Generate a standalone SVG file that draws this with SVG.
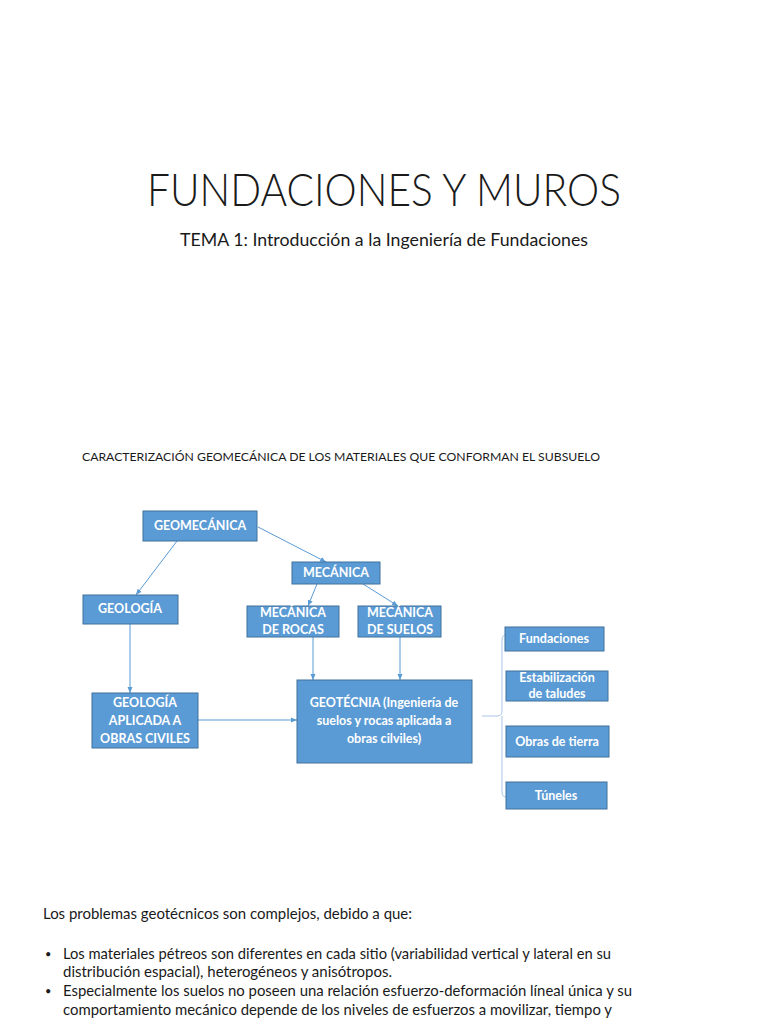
<svg xmlns="http://www.w3.org/2000/svg" width="768" height="1024" viewBox="0 0 768 1024">
<defs>
<style>
.box{fill:#5b9bd5;stroke:#41719c;stroke-width:1}
.bt{fill:#ffffff;font-family:Lato,"Liberation Sans",sans-serif;font-size:12.5px;font-weight:700;text-anchor:middle}
.con{stroke:#5b9bd5;stroke-width:1;fill:none}
.dark{fill:#1a1a1a;font-family:Lato,"Liberation Sans",sans-serif}
</style>
<marker id="ah" markerUnits="userSpaceOnUse" markerWidth="6" markerHeight="6" viewBox="0 0 6 6" refX="6" refY="3" orient="auto">
<path d="M0,0.5 L6,3 L0,5.5 Z" fill="#5b9bd5"/>
</marker>
</defs>
<rect width="768" height="1024" fill="#ffffff"/>

<text class="dark" x="384" y="206" font-size="45" font-weight="300" text-anchor="middle" textLength="474" lengthAdjust="spacingAndGlyphs">FUNDACIONES Y MUROS</text>
<text class="dark" x="384" y="246" font-size="18" text-anchor="middle" textLength="408" lengthAdjust="spacingAndGlyphs">TEMA 1: Introducción a la Ingeniería de Fundaciones</text>
<text class="dark" x="82" y="461" font-size="12" textLength="518" lengthAdjust="spacingAndGlyphs">CARACTERIZACIÓN GEOMECÁNICA DE LOS MATERIALES QUE CONFORMAN EL SUBSUELO</text>

<g id="connectors">
<line class="con" x1="177" y1="541" x2="136" y2="595" marker-end="url(#ah)"/>
<line class="con" x1="258" y1="527" x2="326" y2="562" marker-end="url(#ah)"/>
<line class="con" x1="317" y1="584" x2="308" y2="606" marker-end="url(#ah)"/>
<line class="con" x1="363" y1="584" x2="398" y2="606" marker-end="url(#ah)"/>
<line class="con" x1="130" y1="624" x2="130" y2="693" marker-end="url(#ah)"/>
<line class="con" x1="313" y1="637" x2="313" y2="680" marker-end="url(#ah)"/>
<line class="con" x1="400" y1="637" x2="400" y2="680" marker-end="url(#ah)"/>
<line class="con" x1="198" y1="720" x2="297" y2="720" marker-end="url(#ah)"/>
<path d="M482,716 L497,716 Q502,716 502,711 L502,640 Q502,635 506,635 M502,716 L502,792 Q502,797 506,797" stroke="#a9c6e6" stroke-width="1" fill="none"/>
</g>

<g id="geomecanica">
<rect class="box" x="143" y="511" width="114" height="30"/>
<text class="bt" x="200" y="530">GEOMECÁNICA</text>
</g>
<g id="mecanica">
<rect class="box" x="292" y="562" width="88" height="22"/>
<text class="bt" x="336" y="577">MECÁNICA</text>
</g>
<g id="geologia">
<rect class="box" x="83" y="595" width="95" height="29"/>
<text class="bt" x="130" y="613">GEOLOGÍA</text>
</g>
<g id="mecanica-rocas">
<rect class="box" x="247" y="606" width="92" height="31"/>
<text class="bt" x="293" y="617">MECÁNICA</text>
<text class="bt" x="293" y="634">DE ROCAS</text>
</g>
<g id="mecanica-suelos">
<rect class="box" x="358" y="606" width="83" height="31"/>
<text class="bt" x="400" y="617">MECÁNICA</text>
<text class="bt" x="400" y="634">DE SUELOS</text>
</g>
<g id="geologia-aplicada">
<rect class="box" x="92" y="693" width="106" height="55"/>
<text class="bt" x="145" y="707">GEOLOGÍA</text>
<text class="bt" x="145" y="725">APLICADA A</text>
<text class="bt" x="145" y="743">OBRAS CIVILES</text>
</g>
<g id="geotecnia">
<rect class="box" x="297" y="680" width="175" height="83"/>
<text class="bt" x="384" y="707">GEOTÉCNIA (Ingeniería de</text>
<text class="bt" x="384" y="725">suelos y rocas aplicada a</text>
<text class="bt" x="384" y="743">obras cilviles)</text>
</g>
<g id="fundaciones">
<rect class="box" x="505" y="627" width="99" height="24"/>
<text class="bt" x="554" y="643">Fundaciones</text>
</g>
<g id="estabilizacion">
<rect class="box" x="506" y="671" width="102" height="30"/>
<text class="bt" x="557" y="682">Estabilización</text>
<text class="bt" x="557" y="698">de taludes</text>
</g>
<g id="obras-tierra">
<rect class="box" x="506" y="726" width="103" height="31"/>
<text class="bt" x="557" y="746">Obras de tierra</text>
</g>
<g id="tuneles">
<rect class="box" x="506" y="782" width="101" height="27"/>
<text class="bt" x="556" y="800">Túneles</text>
</g>

<text class="dark" x="43" y="919" font-size="15" textLength="369" lengthAdjust="spacingAndGlyphs">Los problemas geotécnicos son complejos, debido a que:</text>
<text class="dark" x="45" y="958" font-size="11">•</text>
<text class="dark" x="63" y="959" font-size="15" textLength="548" lengthAdjust="spacingAndGlyphs">Los materiales pétreos son diferentes en cada sitio (variabilidad vertical y lateral en su</text>
<text class="dark" x="63" y="977" font-size="15" textLength="329" lengthAdjust="spacingAndGlyphs">distribución espacial), heterogéneos y anisótropos.</text>
<text class="dark" x="45" y="995" font-size="11">•</text>
<text class="dark" x="63" y="996" font-size="15" textLength="569" lengthAdjust="spacingAndGlyphs">Especialmente los suelos no poseen una relación esfuerzo-deformación líneal única y su</text>
<text class="dark" x="63" y="1015" font-size="15" textLength="549" lengthAdjust="spacingAndGlyphs">comportamiento mecánico depende de los niveles de esfuerzos a movilizar, tiempo y</text>
</svg>
